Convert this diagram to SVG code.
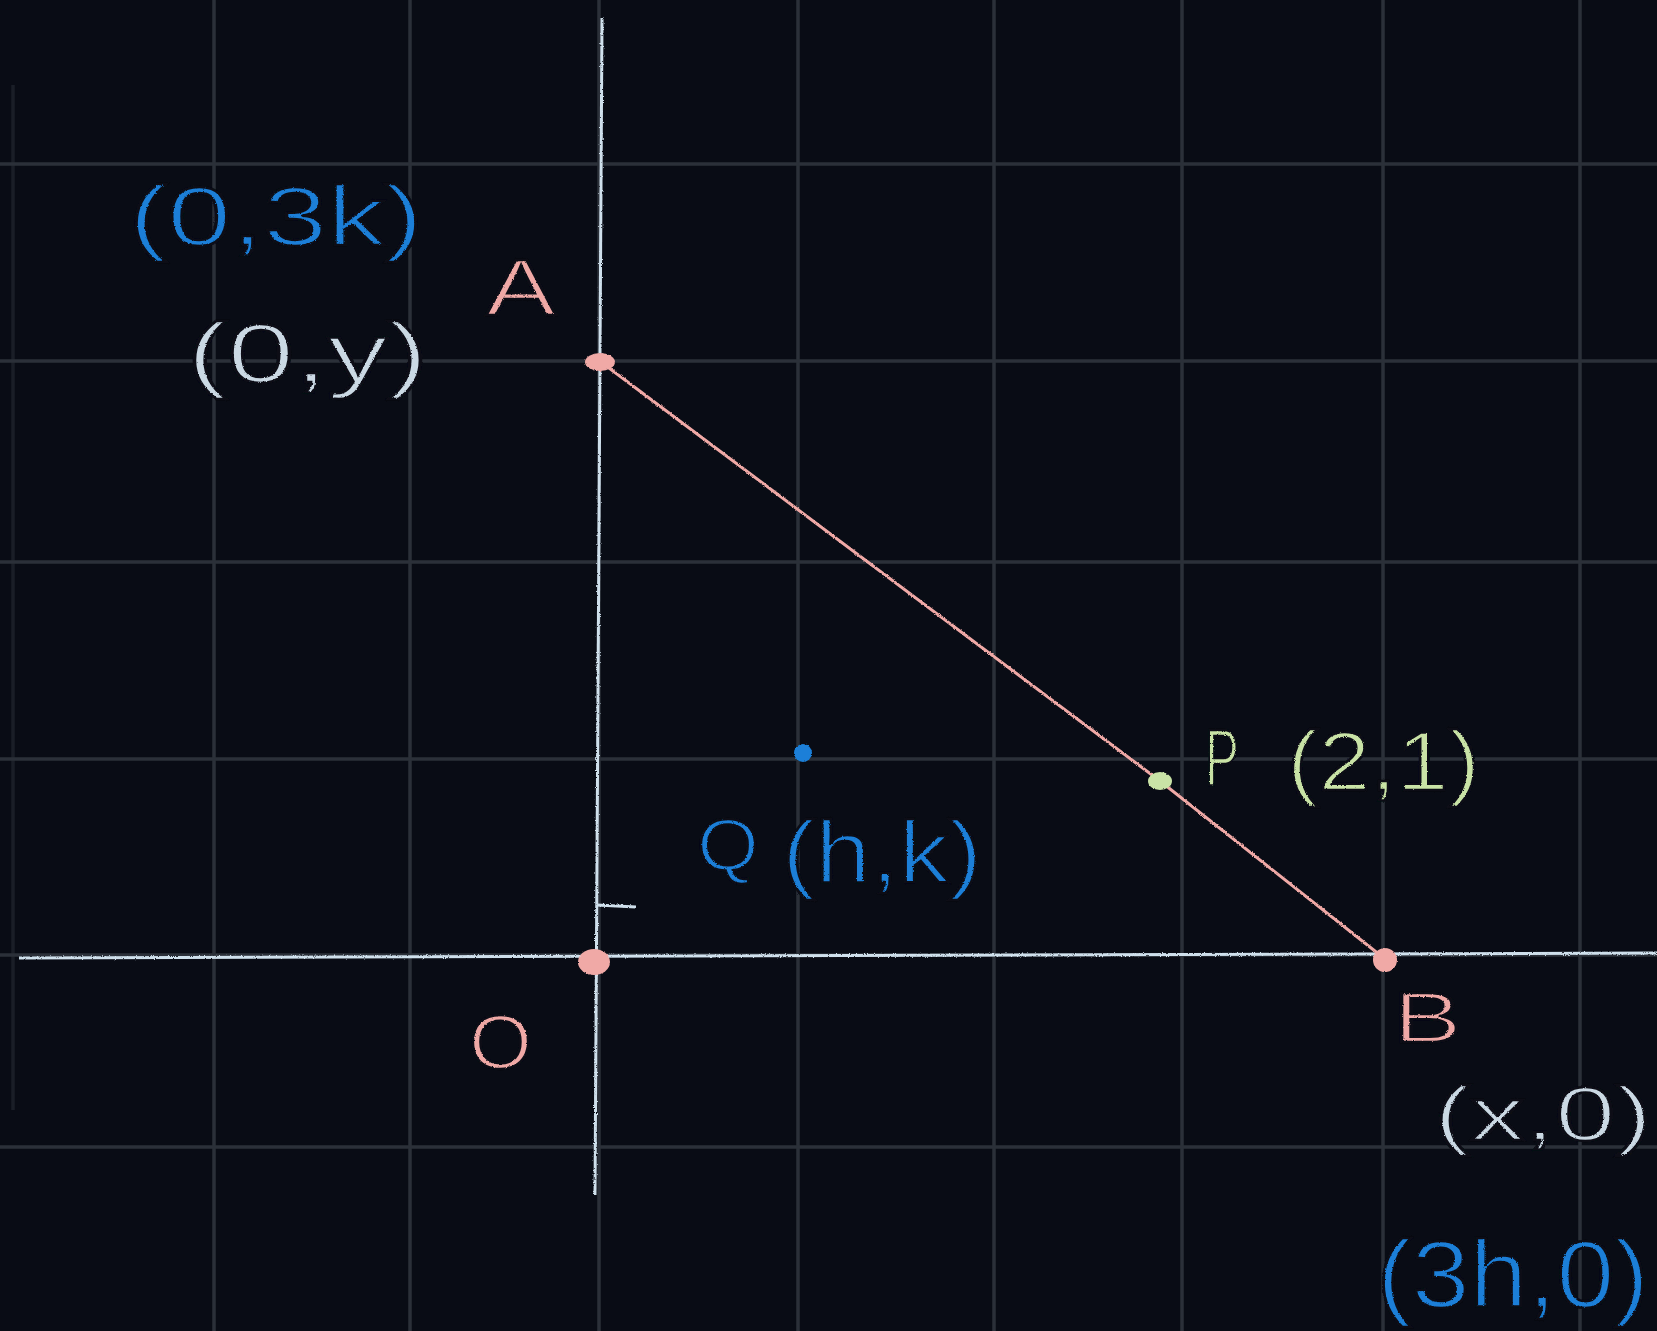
<svg xmlns="http://www.w3.org/2000/svg" width="1657" height="1331" viewBox="0 0 1657 1331">
<defs>
<filter id="chalk" filterUnits="userSpaceOnUse" x="0" y="0" width="1657" height="1331">
<feTurbulence type="fractalNoise" baseFrequency="0.9" numOctaves="2" seed="3" result="n"/>
<feDisplacementMap in="SourceGraphic" in2="n" scale="2.5" xChannelSelector="R" yChannelSelector="G"/>
</filter>
<style>
.grid{stroke:#2b3039;stroke-width:3.5;fill:none}
.axis{stroke:#cfe0ec;stroke-width:3;fill:none}
.seg{stroke:#f0a9a6;stroke-width:3;fill:none}
.lbl{font-family:"Liberation Sans","DejaVu Sans",sans-serif;font-weight:normal;stroke:#090c15;stroke-width:2.5}
.pink{fill:#f0a9a6}
.blue{fill:#1a7fd8}
.white{fill:#cbd9e4}
.green{fill:#c9e3a6}
</style>
</defs>
<rect width="1657" height="1331" fill="#090c15"/>
<g id="grid">
<line class="grid" x1="13" y1="85" x2="13" y2="1110" stroke-opacity="0.5"/>
<line class="grid" x1="214" y1="0" x2="214" y2="1331"/>
<line class="grid" x1="410" y1="0" x2="410" y2="1331"/>
<line class="grid" x1="599" y1="0" x2="599" y2="1331"/>
<line class="grid" x1="798" y1="0" x2="798" y2="1331"/>
<line class="grid" x1="994" y1="0" x2="994" y2="1331"/>
<line class="grid" x1="1182" y1="0" x2="1182" y2="1331"/>
<line class="grid" x1="1383" y1="0" x2="1383" y2="1331"/>
<line class="grid" x1="1580" y1="0" x2="1580" y2="1331"/>
<line class="grid" x1="0" y1="164" x2="1657" y2="164"/>
<line class="grid" x1="0" y1="361" x2="1657" y2="361"/>
<line class="grid" x1="0" y1="562" x2="1657" y2="562"/>
<line class="grid" x1="0" y1="759" x2="1657" y2="759"/>
<line class="grid" x1="0" y1="955" x2="1657" y2="955"/>
<line class="grid" x1="0" y1="1147" x2="1657" y2="1147"/>
</g>
<g id="axes" filter="url(#chalk)">
<line class="axis" x1="602" y1="18" x2="595" y2="1195"/>
<line class="axis" x1="19" y1="958" x2="1657" y2="953"/>
<line class="axis" x1="597" y1="905" x2="636" y2="907"/>
</g>
<g id="connectors" filter="url(#chalk)">
<polyline class="seg" points="601,362 1160,781 1385,959"/>
</g>
<g id="node-A" filter="url(#chalk)">
<ellipse class="pink" cx="600" cy="362" rx="15" ry="9"/>
<text class="lbl pink" x="486" y="315" font-size="80" textLength="70" lengthAdjust="spacingAndGlyphs">A</text>
<text class="lbl blue" x="129" y="245" font-size="84" textLength="294" lengthAdjust="spacingAndGlyphs">(0,3k)</text>
<text class="lbl white" x="187" y="382" font-size="84" textLength="241" lengthAdjust="spacingAndGlyphs">(0,y)</text>
</g>
<g id="node-O" filter="url(#chalk)">
<ellipse class="pink" cx="594" cy="962" rx="16" ry="13"/>
<text class="lbl pink" x="469" y="1068" font-size="76" textLength="63" lengthAdjust="spacingAndGlyphs">O</text>
</g>
<g id="node-B" filter="url(#chalk)">
<ellipse class="pink" cx="1385" cy="960" rx="12" ry="12"/>
<text class="lbl pink" x="1393" y="1042" font-size="70" textLength="69" lengthAdjust="spacingAndGlyphs">B</text>
<text class="lbl white" x="1434" y="1140" font-size="76" textLength="218" lengthAdjust="spacingAndGlyphs">(x,0)</text>
<text class="lbl blue" x="1377" y="1307" font-size="94" textLength="272" lengthAdjust="spacingAndGlyphs">(3h,0)</text>
</g>
<g id="node-P" filter="url(#chalk)">
<ellipse class="green" cx="1160" cy="781" rx="12" ry="9"/>
<text class="lbl green" x="1205" y="785" font-size="80" textLength="34" lengthAdjust="spacingAndGlyphs">P</text>
<text class="lbl green" x="1287" y="790" font-size="84" textLength="193" lengthAdjust="spacingAndGlyphs">(2,1)</text>
</g>
<g id="node-Q" filter="url(#chalk)">
<circle class="blue" cx="803" cy="753" r="9"/>
<text class="lbl blue" x="697" y="870" font-size="72" textLength="62" lengthAdjust="spacingAndGlyphs">Q</text>
<text class="lbl blue" x="782" y="882" font-size="88" textLength="200" lengthAdjust="spacingAndGlyphs">(h,k)</text>
</g>
</svg>
